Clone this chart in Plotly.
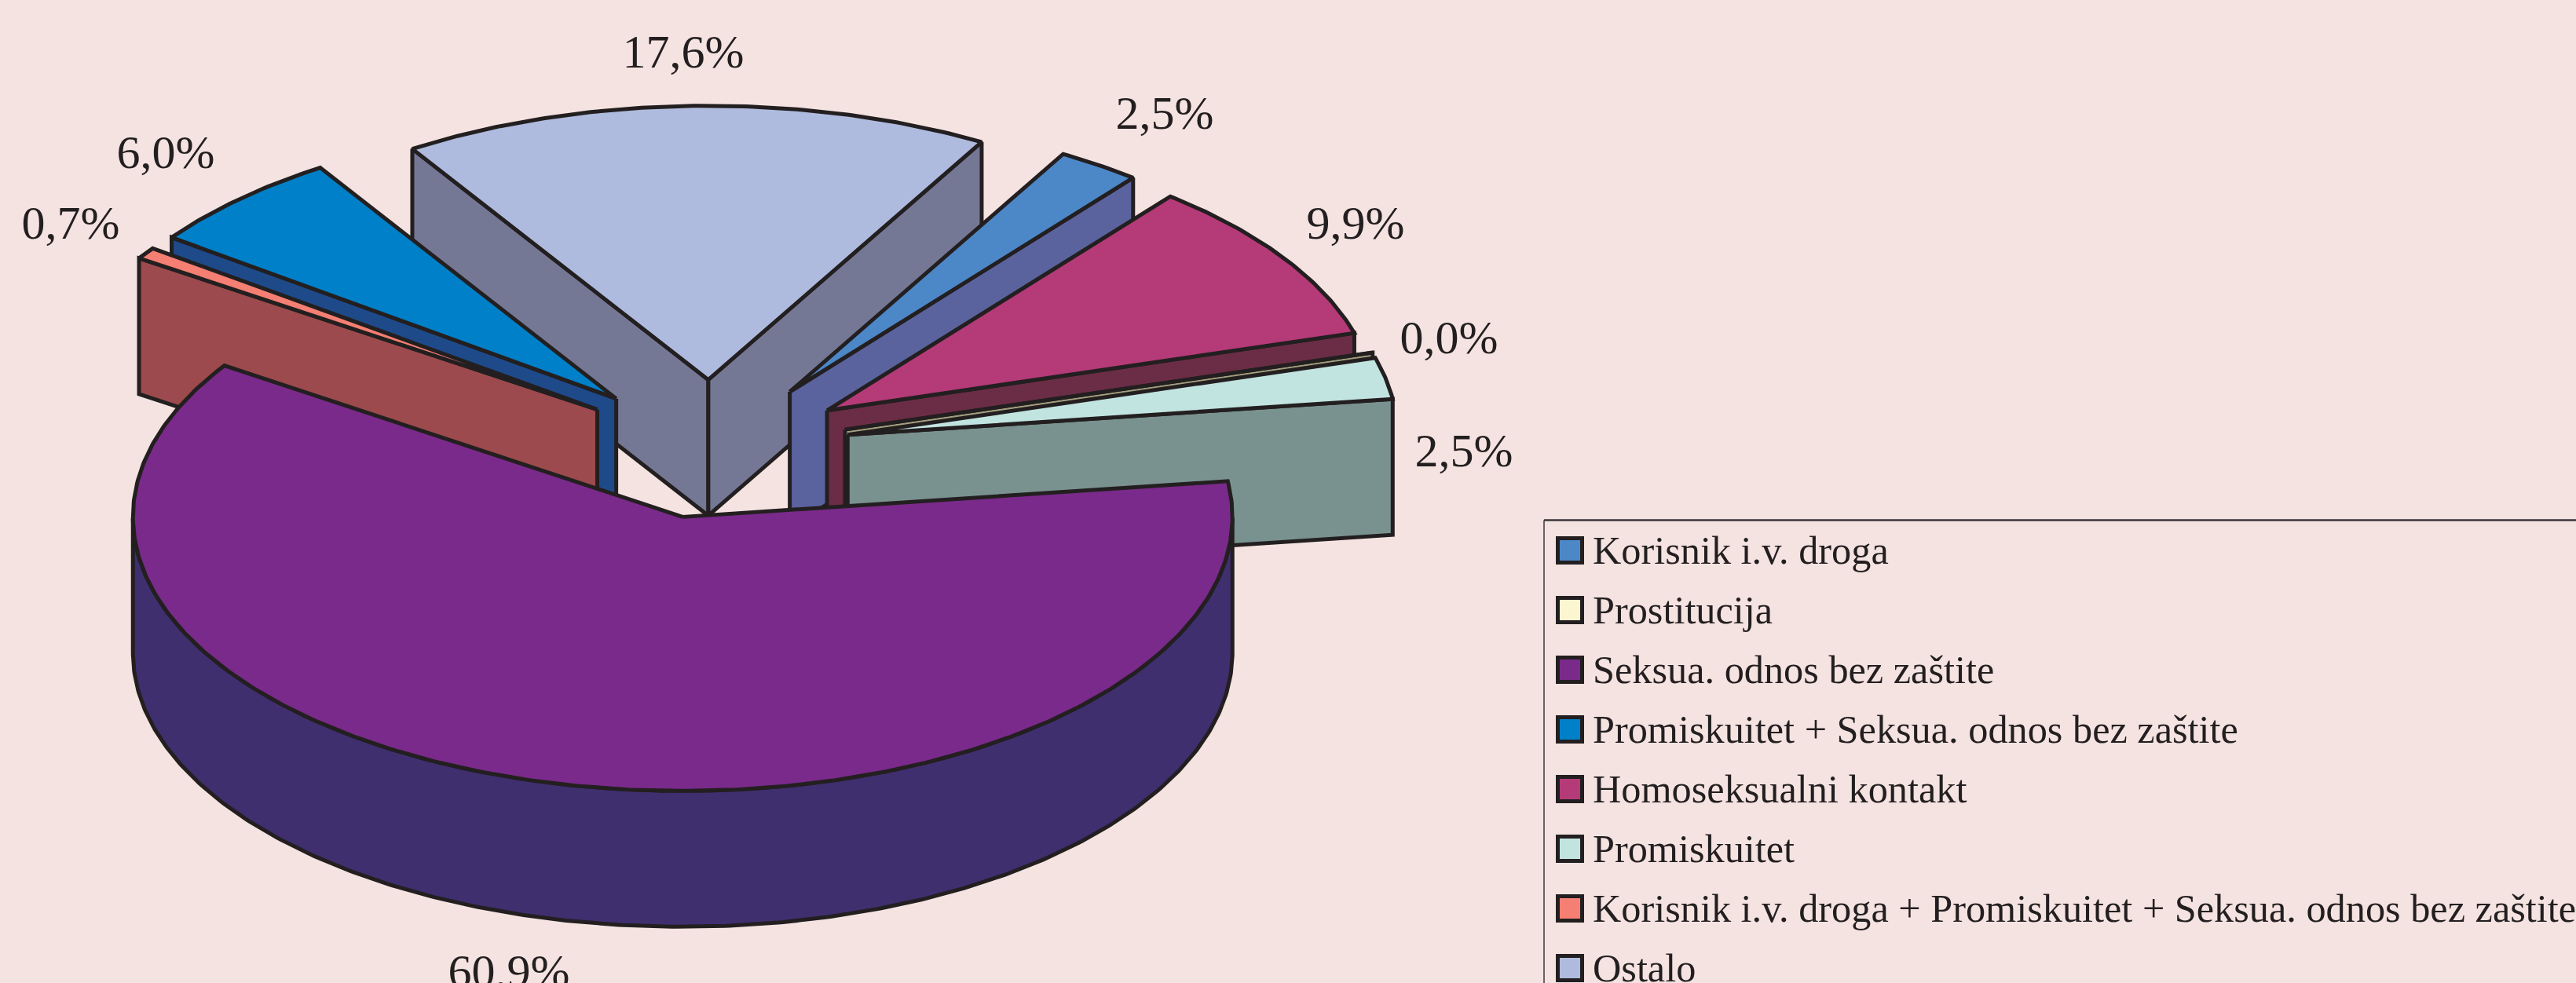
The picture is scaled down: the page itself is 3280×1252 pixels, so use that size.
import numpy as np
import plotly.graph_objects as go

# ---- data ----
CATEGORIES = ["Korisnik i.v. droga", "Prostitucija", "Seksua. odnos bez zaštite",
              "Promiskuitet + Seksua. odnos bez zaštite", "Homoseksualni kontakt",
              "Promiskuitet", "Korisnik i.v. droga + Promiskuitet + Seksua. odnos bez zaštite",
              "Ostalo"]
VALUES = [2.5, 0.03, 60.9, 6.0, 9.9, 2.5, 0.7, 17.6]
TOP_COLORS = ["#4C87C8", "#FBF6CF", "#7A2A8A", "#0080C8", "#B53A78", "#C1E4E0", "#F47F72", "#AFBBDE"]
WALL_COLORS = ["#5A639E", "#A39E7E", "#3F2F6F", "#1E4A8A", "#6B2D45", "#79928F", "#9C4A4D", "#757895"]

# clockwise sequence round the pie, and back-to-front painting order (legend indices)
CLOCKWISE = [2, 6, 3, 7, 0, 4, 1, 5]
PAINT = [7, 0, 4, 1, 5, 3, 6, 2]

# ---- layout ----
W, H = 3280, 1252
BG = "#F5E3E1"
INK = "#231F20"
CX, CY = 906, 572
RX, RY = 700, 349
DEPTH = 173
EXPLODE = 0.253
START_DEG = 7.5
WARP_DEG = 2.2      # perspective of the tilted pie: rim angles lag slightly toward the back-left
LW = 5
LABEL_POS = {0: (1483, 149), 1: (1845, 435), 2: (648, 1242), 3: (211, 199),
             4: (1726, 289), 5: (1864, 579), 6: (90, 289), 7: (870, 71)}
LEGEND_X, LEGEND_Y0, LEGEND_DY = 1999, 705, 76
LEGEND_TEXT_X = 2028

fig = go.Figure()


def warp(deg):
    """Screen angle of a pie angle under the chart's perspective."""
    d = np.asarray(deg, dtype=float)
    u = np.mod(d - START_DEG, 360.0)
    return d - WARP_DEG * np.sin(np.radians(u / 2))


def face(xs, ys, color):
    fig.add_trace(go.Scatter(x=xs, y=ys, mode="lines", fill="toself", fillcolor=color,
                             line=dict(color=INK, width=LW), hoverinfo="skip", showlegend=False))


total = sum(VALUES)
spans = {}
a = START_DEG
for i in CLOCKWISE:
    b = a - VALUES[i] / total * 360
    spans[i] = (a, b)
    a = b

for i in PAINT:
    a, b = spans[i]
    raw_mid = (a + b) / 2
    # the front slice explodes straight along its own axis; only back slices feel the warp
    mid = np.radians(warp(raw_mid) if np.sin(np.radians(raw_mid)) > 0 else raw_mid)
    ax = CX + EXPLODE * RX * np.cos(mid)
    ay = CY - EXPLODE * RY * np.sin(mid)
    t_deg = warp(np.linspace(a, b, max(2, int(abs(a - b) * 2) + 2)))
    t = np.radians(t_deg)
    rim_x = ax + RX * np.cos(t)
    rim_y = ay - RY * np.sin(t)
    # cut faces that look toward the viewer
    if np.cos(t[0]) < 0:
        x1, y1 = rim_x[0], rim_y[0]
        face([ax, x1, x1, ax, ax], [ay, y1, y1 + DEPTH, ay + DEPTH, ay], WALL_COLORS[i])
    if np.cos(t[-1]) > 0:
        x1, y1 = rim_x[-1], rim_y[-1]
        face([ax, x1, x1, ax, ax], [ay, y1, y1 + DEPTH, ay + DEPTH, ay], WALL_COLORS[i])
    # outer wall where the rim faces the viewer
    front = np.sin(t) < 0
    if front.any():
        fx, fy = rim_x[front], rim_y[front]
        face(np.r_[fx, fx[::-1], fx[0]], np.r_[fy, fy[::-1] + DEPTH, fy[0]], WALL_COLORS[i])
    # top
    face(np.r_[ax, rim_x, ax], np.r_[ay, rim_y, ay], TOP_COLORS[i])

# percent labels
fig.add_trace(go.Scatter(
    x=[LABEL_POS[i][0] for i in range(len(VALUES))],
    y=[LABEL_POS[i][1] for i in range(len(VALUES))],
    text=[f"{v:.1f}%".replace(".", ",") for v in VALUES],
    mode="text", textposition="middle center",
    textfont=dict(family="Liberation Serif", size=60, color=INK),
    hoverinfo="skip", showlegend=False))

# legend
legend_y = [LEGEND_Y0 + k * LEGEND_DY for k in range(len(CATEGORIES))]
fig.add_trace(go.Scatter(
    x=[LEGEND_X] * len(CATEGORIES), y=[y - 4 for y in legend_y], mode="markers",
    marker=dict(symbol="square", size=31, color=TOP_COLORS, line=dict(color=INK, width=5)),
    hoverinfo="skip", showlegend=False))
fig.add_trace(go.Scatter(
    x=[LEGEND_TEXT_X] * len(CATEGORIES), y=legend_y, text=CATEGORIES,
    mode="text", textposition="middle right",
    textfont=dict(family="Liberation Serif", size=50.3, color=INK),
    hoverinfo="skip", showlegend=False))

fig.add_shape(type="line", x0=1966, x1=W, y0=662.5, y1=662.5, line=dict(color="#3A3638", width=2.5))
fig.add_shape(type="line", x0=1966, x1=1966, y0=662.5, y1=H, line=dict(color="#3A3638", width=1.5))

fig.update_xaxes(range=[0, W], visible=False, fixedrange=True)
fig.update_yaxes(range=[H, 0], visible=False, fixedrange=True)
fig.update_layout(width=W, height=H, margin=dict(l=0, r=0, t=0, b=0),
                  paper_bgcolor=BG, plot_bgcolor=BG, showlegend=False)
fig.write_html("out.html", config={"displayModeBar": False},
               post_script="document.body.style.margin='0';document.body.style.overflow='hidden';")
